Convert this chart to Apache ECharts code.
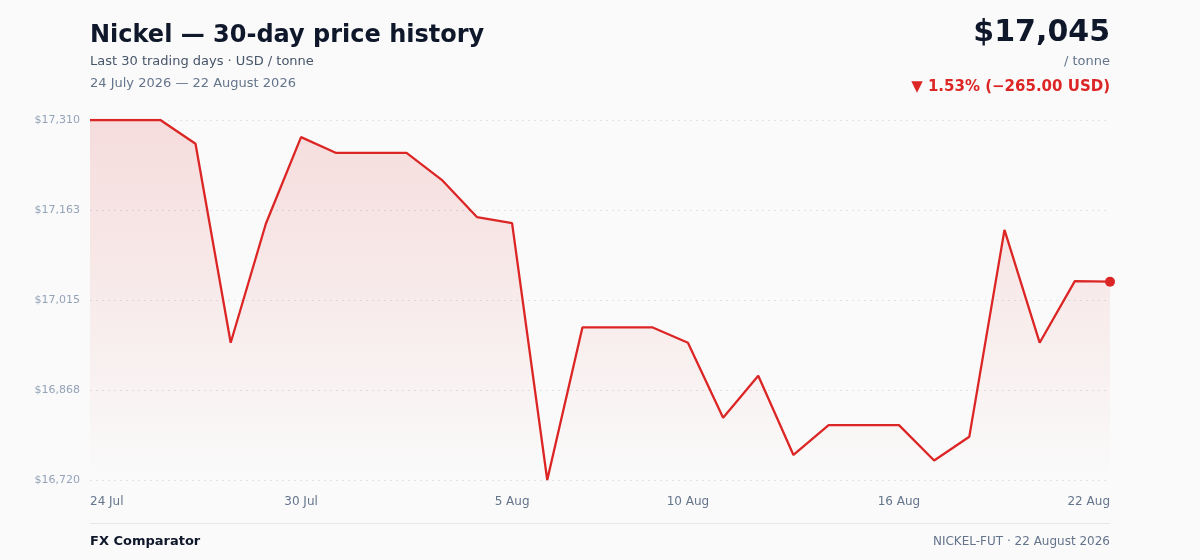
<!DOCTYPE html>
<html>
<head>
<meta charset="utf-8">
<script src="https://cdn.jsdelivr.net/npm/echarts@6/dist/echarts.min.js"></script>
<style>
html,body{margin:0;padding:0;background:#fafafa;}
#c{width:1200px;height:560px;}
</style>
</head>
<body>
<div id="c"></div>
<script>
const categories = ['24 Jul','25 Jul','26 Jul','27 Jul','28 Jul','29 Jul','30 Jul','31 Jul','1 Aug','2 Aug','3 Aug','4 Aug','5 Aug','6 Aug','7 Aug','8 Aug','9 Aug','10 Aug','11 Aug','12 Aug','13 Aug','14 Aug','15 Aug','16 Aug','17 Aug','18 Aug','19 Aug','20 Aug','21 Aug','22 Aug'];
const prices = [17310,17310,17310,17271,16945,17140,17282,17256,17256,17256,17212,17151,17141,16720,16970,16970,16970,16945,16822,16891,16761,16810,16810,16810,16752,16791,17130,16945,17046,17045];
const shownLabelIdx = [0,6,12,17,23,29];
const yMin = 16720, yMax = 17310, yStep = 147.5;

const titleText = 'Nickel — 30-day price history';
const subtitleText = 'Last 30 trading days · USD / tonne';
const rangeText = '24 July 2026 — 22 August 2026';
const priceText = '$17,045';
const unitText = '/ tonne';
const changeText = '▼ 1.53% (−265.00 USD)';
const footerLeft = 'FX Comparator';
const footerRight = 'NICKEL-FUT · 22 August 2026';

const font = '"DejaVu Sans", sans-serif';
const red = '#dc2626';

const chart = echarts.init(document.getElementById('c'));
chart.setOption({
  backgroundColor: '#fafafa',
  animation: false,
  textStyle: { fontFamily: font },
  grid: { left: 90, right: 90, top: 120, bottom: 80, containLabel: false },
  xAxis: {
    type: 'category',
    data: categories,
    boundaryGap: false,
    axisLine: { show: false },
    axisTick: { show: false },
    splitLine: { show: false },
    axisLabel: {
      interval: (i) => shownLabelIdx.indexOf(i) >= 0,
      color: '#64748b',
      fontSize: 12,
      fontFamily: font,
      margin: 16,
      alignMinLabel: 'left',
      alignMaxLabel: 'right'
    }
  },
  yAxis: {
    type: 'value',
    min: yMin,
    max: yMax,
    interval: yStep,
    axisLine: { show: false },
    axisTick: { show: false },
    axisLabel: {
      color: '#94a3b8',
      fontSize: 11,
      fontFamily: font,
      margin: 10,
      formatter: (v) => '$' + Math.round(v).toLocaleString('en-US')
    },
    splitLine: { lineStyle: { color: '#dfe2e7', type: [2, 4], width: 1 } }
  },
  series: [{
    type: 'line',
    data: prices,
    symbol: 'circle',
    symbolSize: (v, p) => p.dataIndex === prices.length - 1 ? 10 : 0,
    showSymbol: true,
    itemStyle: { color: red },
    lineStyle: { color: red, width: 2.3 },
    areaStyle: {
      origin: 'start',
      color: new echarts.graphic.LinearGradient(0, 0, 0, 1, [
        { offset: 0, color: 'rgba(220,38,38,0.2)' },
        { offset: 0.5, color: 'rgba(220,38,38,0.1)' },
        { offset: 1, color: 'rgba(220,38,38,0.0)' }
      ])
    }
  }],
  graphic: [
    { type: 'text', left: 90, top: 24, style: { text: titleText, font: 'bold 24px ' + font, fill: '#0f172a' } },
    { type: 'text', left: 90, top: 55, style: { text: subtitleText, font: '13px ' + font, fill: '#475569' } },
    { type: 'text', left: 90, top: 77, style: { text: rangeText, font: '13px ' + font, fill: '#64748b' } },
    { type: 'text', right: 90, top: 18, style: { text: priceText, font: 'bold 30px ' + font, fill: '#0f172a', textAlign: 'right' } },
    { type: 'text', right: 90, top: 55, style: { text: unitText, font: '13px ' + font, fill: '#64748b', textAlign: 'right' } },
    { type: 'text', right: 90, top: 80, style: { text: changeText, font: 'bold 15px ' + font, fill: red, textAlign: 'right' } },
    { type: 'rect', left: 90, top: 523, shape: { width: 1020, height: 1 }, style: { fill: '#e5e7eb' } },
    { type: 'text', left: 90, top: 535, style: { text: footerLeft, font: 'bold 13px ' + font, fill: '#0f172a' } },
    { type: 'text', right: 90, top: 536, style: { text: footerRight, font: '12px ' + font, fill: '#64748b', textAlign: 'right' } }
  ]
});
</script>
</body>
</html>
